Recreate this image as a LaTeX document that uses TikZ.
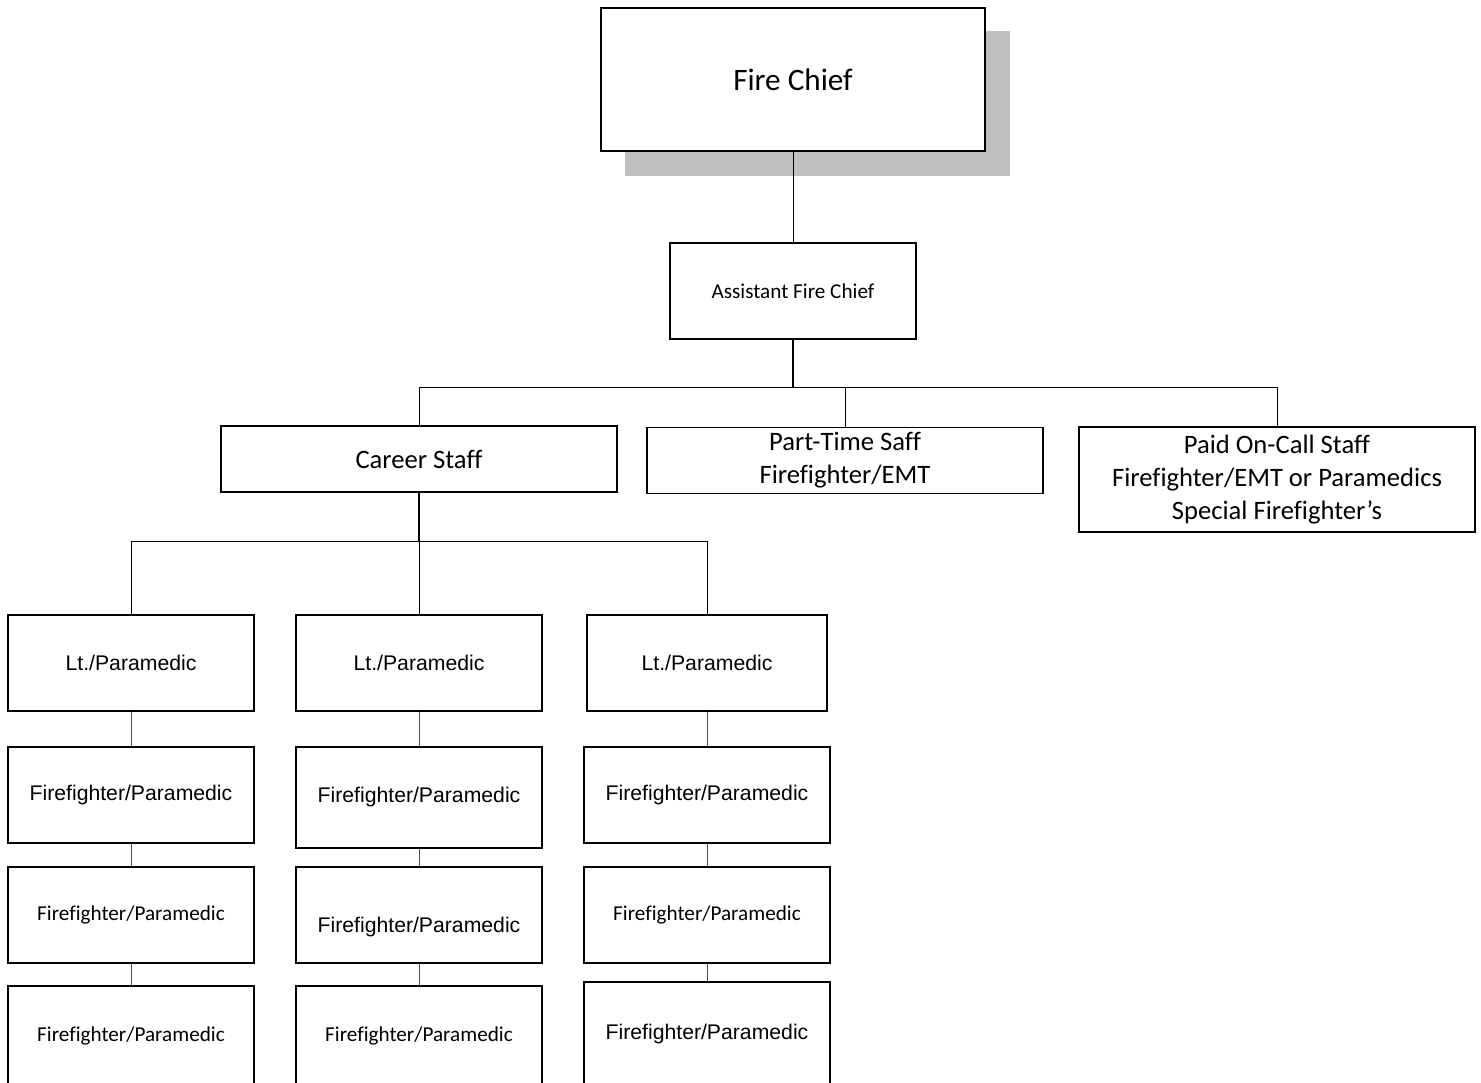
\documentclass[tikz,border=0pt]{standalone}
\usepackage{fontspec}
\setmainfont{Carlito}[Ligatures={NoCommon}]
\newfontfamily\arialf{Liberation Sans}[Ligatures={NoCommon}]
\begin{document}
\begin{tikzpicture}[x=0.5pt,y=-0.5pt,
  box/.style={draw=black,line width=0.75pt,fill=white,rectangle,inner sep=0pt,align=center},
  colbox/.style={box,minimum width=123pt,minimum height=48pt},
  fA/.style={font=\arialf\fontsize{10.6}{12.7}\selectfont},
  fC/.style={font=\fontsize{10.6}{12.7}\selectfont},
  fL/.style={font=\fontsize{13.3}{16.4}\selectfont},
  conn/.style={draw=black,line width=0.5pt},
  stem/.style={draw=black,line width=0.75pt},
  lnk/.style={draw=black!70,line width=0.5pt}]
\useasboundingbox (0,0) rectangle (1481,1082);
\clip (0,0) rectangle (1481,1082);
% top
\fill[black!25] (625,31) rectangle (1010,176);
\node[box,line width=1pt,minimum width=192pt,minimum height=71.5pt,
  font=\fontsize{15.6}{18}\selectfont] (chief) at (793,79.5) {Fire Chief};
\node[box,fC,minimum width=123pt,minimum height=48pt] (asst) at (793,291) {Assistant Fire Chief};
\node[box,fL,minimum width=198pt,minimum height=33pt] (career) at (419,459) {Career Staff};
\node[box,fL,minimum width=198pt,minimum height=33pt] (part) at (845,460.5) {Part-Time Saff\\Firefighter/EMT};
\node[box,fL,minimum width=198pt,minimum height=52.5pt] (paid) at (1277,479.5) {Paid On-Call Staff\\Firefighter/EMT or Paramedics\\Special Firefighter’s};
% column 1
\node[colbox,fA] (a0) at (131,663) {Lt./Paramedic};
\node[colbox,fA] (a1) at (131,795) {Firefighter/Paramedic};
\node[colbox,fC] (a2) at (131,915) {Firefighter/Paramedic};
\node[colbox,fC,minimum height=50pt] (a3) at (131,1036) {Firefighter/Paramedic};
% column 2
\node[colbox,fA] (b0) at (419,663) {Lt./Paramedic};
\node[colbox,fA,minimum height=50.5pt] (b1) at (419,797.5) {Firefighter/Paramedic};
\node[colbox] (b2) at (419,915) {};
\node[fA] (b2t) at (419,927) {Firefighter/Paramedic};
\node[colbox,fC,minimum height=50pt] (b3) at (419,1036) {Firefighter/Paramedic};
% column 3
\node[colbox,fA,minimum width=120pt] (c0) at (707,663) {Lt./Paramedic};
\node[colbox,fA] (c1) at (707,795) {Firefighter/Paramedic};
\node[colbox,fC] (c2) at (707,915) {Firefighter/Paramedic};
\node[colbox,fA,minimum height=52pt] (c3) at (707,1034) {Firefighter/Paramedic};
% connectors
\coordinate (busA) at (793,387);
\coordinate (busB) at (419,541);
\draw[conn] (chief.south) -- (asst.north);
\draw[stem] (asst.south) -- (busA);
\draw[conn] (career.north) -- (career.north |- busA) -- (paid.north |- busA) -- (paid.north);
\draw[conn] (part.north) -- (part.north |- busA);
\draw[stem] (career.south) -- (busB);
\draw[conn] (a0.north) -- (a0.north |- busB) -- (c0.north |- busB) -- (c0.north);
\draw[conn] (b0.north) -- (busB);
\draw[lnk] (a0.south) -- (a1.north);
\draw[lnk] (a1.south) -- (a2.north);
\draw[lnk] (a2.south) -- (a3.north);
\draw[lnk] (b0.south) -- (b1.north);
\draw[lnk] (b1.south) -- (b2.north);
\draw[lnk] (b2.south) -- (b3.north);
\draw[lnk] (c0.south) -- (c1.north);
\draw[lnk] (c1.south) -- (c2.north);
\draw[lnk] (c2.south) -- (c3.north);
\end{tikzpicture}
\end{document}
